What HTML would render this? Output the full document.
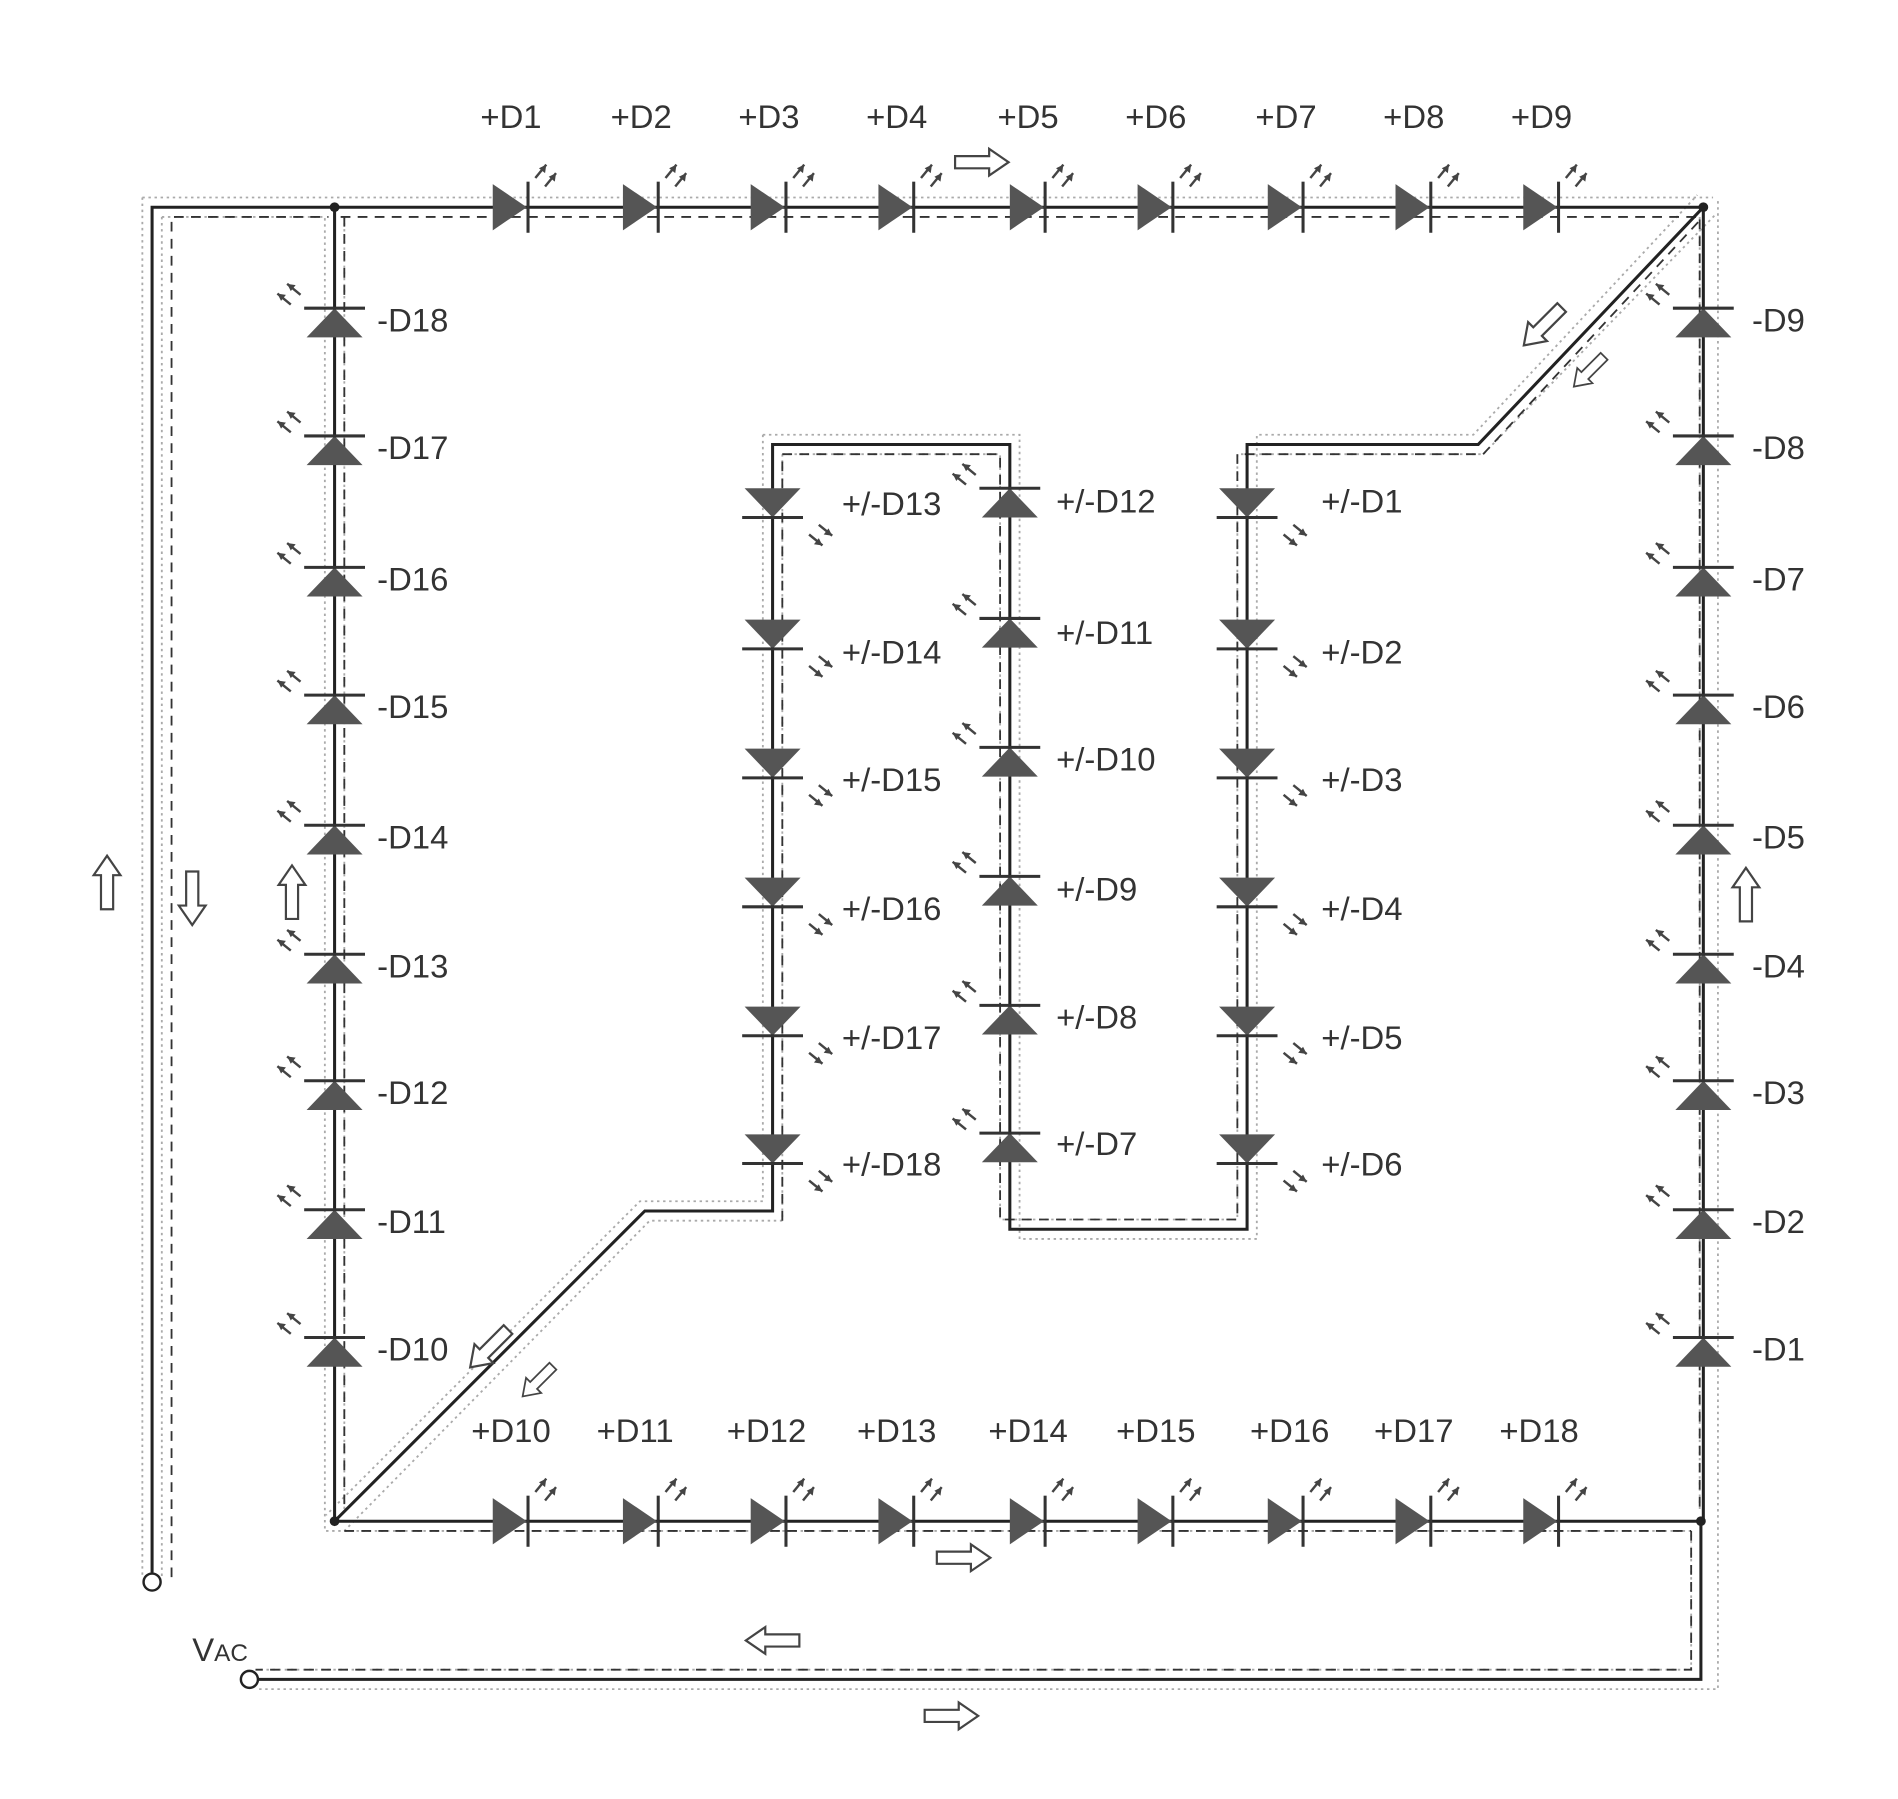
<!DOCTYPE html>
<html><head><meta charset="utf-8"><style>
html,body{margin:0;padding:0;background:#fff}
svg{display:block}
text{font-family:"Liberation Sans",sans-serif;font-size:27px;fill:#333}
</style></head><body>
<svg width="1898" height="1799" viewBox="0 0 1560 1478" xmlns="http://www.w3.org/2000/svg">
<defs>
<g id="la"><line x1="0" y1="0" x2="9" y2="-11" stroke="#444" stroke-width="2"/><polygon points="9,-11 3,-8 8,-4" fill="#444"/></g>
<g id="dR"><polygon points="-15,-19 13,0 -15,19" fill="#555"/><line x1="14" y1="-21" x2="14" y2="21" stroke="#333" stroke-width="2.5"/>
<use href="#la" x="20" y="-24"/><use href="#la" x="28" y="-17"/></g>
<g id="dU"><polygon points="-23,13 0,-11 23,13" fill="#555"/><line x1="-25" y1="-11" x2="25" y2="-11" stroke="#333" stroke-width="2.5"/>
<g transform="translate(-28,-14) rotate(-90)"><use href="#la" x="0" y="-8"/><use href="#la" x="8" y="0"/></g></g>
<g id="dD"><polygon points="-23,-12 0,12 23,-12" fill="#555"/><line x1="-25" y1="12" x2="25" y2="12" stroke="#333" stroke-width="2.5"/>
<g transform="translate(30,18) rotate(90)"><use href="#la" x="0" y="-8"/><use href="#la" x="8" y="0"/></g></g>
<path id="ar" d="M-22,-5 L6,-5 L6,-11 L22,0 L6,11 L6,5 L-22,5 Z" fill="#fff" stroke="#444" stroke-width="1.8"/>
</defs>
<g fill="none" stroke="#aaa" stroke-width="1.5" stroke-dasharray="2,3">
<path d="M117,162 H1408 M117,162 V1296 M133,178 V1296 M133,178 H267 V1258 H1390 V1372 H213 M213,1388 H1412 V162"/>
<path d="M627,357 H838 V1018 H1033 V357 H1211 L1395,160 M643,373 H822 V1002 H1017 V373 H1219 L1410,176"/>
<path d="M627,357 V987 H526 L268,1245 M643,373 V1003 H534 L283,1258"/>
<path d="M283,178 V1242 M1397,178 V1242"/>
</g>
<g fill="none" stroke="#333" stroke-width="1.5" stroke-dasharray="8,6">
<path d="M125,1296 V170 M141,1296 V178 H270 M280,178 H1395 M283,178 V1240 M1397,180 V1243"/>
<path d="M283,1258 H1390 M1390,1258 V1372 H210"/>
<path d="M643,1003 V373 H822 V1002 H1017 V373 H1219 L1396,182"/>
</g>
<g fill="none" stroke="#222" stroke-width="2.5">
<path d="M125,1292 V170 H1400 V1250 H275 V170"/>
<path d="M212,1380 H1398 V1250"/>
<path d="M275,1250 L530,995 H635 V365 H830 V1010 H1025 V365 H1215 L1400,170"/>
</g>
<circle cx="125" cy="1300" r="7" fill="#fff" stroke="#222" stroke-width="2"/>
<circle cx="205" cy="1380" r="7" fill="#fff" stroke="#222" stroke-width="2"/>
<circle cx="275" cy="170" r="4" fill="#222"/><circle cx="1400" cy="170" r="4" fill="#222"/>
<circle cx="275" cy="1250" r="4" fill="#222"/><circle cx="1398" cy="1250" r="4" fill="#222"/>
<text x="158" y="1365">V<tspan font-size="20">AC</tspan></text>
<!-- top diodes -->
<g>
<use href="#dR" x="420" y="170"/><use href="#dR" x="527" y="170"/><use href="#dR" x="632" y="170"/><use href="#dR" x="737" y="170"/><use href="#dR" x="845" y="170"/><use href="#dR" x="950" y="170"/><use href="#dR" x="1057" y="170"/><use href="#dR" x="1162" y="170"/><use href="#dR" x="1267" y="170"/>
<use href="#dR" x="420" y="1250"/><use href="#dR" x="527" y="1250"/><use href="#dR" x="632" y="1250"/><use href="#dR" x="737" y="1250"/><use href="#dR" x="845" y="1250"/><use href="#dR" x="950" y="1250"/><use href="#dR" x="1057" y="1250"/><use href="#dR" x="1162" y="1250"/><use href="#dR" x="1267" y="1250"/>
</g>
<g text-anchor="middle">
<text x="420" y="105">+D1</text><text x="527" y="105">+D2</text><text x="632" y="105">+D3</text><text x="737" y="105">+D4</text><text x="845" y="105">+D5</text><text x="950" y="105">+D6</text><text x="1057" y="105">+D7</text><text x="1162" y="105">+D8</text><text x="1267" y="105">+D9</text>
<text x="420" y="1185">+D10</text><text x="522" y="1185">+D11</text><text x="630" y="1185">+D12</text><text x="737" y="1185">+D13</text><text x="845" y="1185">+D14</text><text x="950" y="1185">+D15</text><text x="1060" y="1185">+D16</text><text x="1162" y="1185">+D17</text><text x="1265" y="1185">+D18</text>
</g>
<!-- left and right columns -->
<g>
<use href="#dU" x="275" y="264"/><use href="#dU" x="275" y="369"/><use href="#dU" x="275" y="477"/><use href="#dU" x="275" y="582"/><use href="#dU" x="275" y="689"/><use href="#dU" x="275" y="795"/><use href="#dU" x="275" y="899"/><use href="#dU" x="275" y="1005"/><use href="#dU" x="275" y="1110"/>
<use href="#dU" x="1400" y="264"/><use href="#dU" x="1400" y="369"/><use href="#dU" x="1400" y="477"/><use href="#dU" x="1400" y="582"/><use href="#dU" x="1400" y="689"/><use href="#dU" x="1400" y="795"/><use href="#dU" x="1400" y="899"/><use href="#dU" x="1400" y="1005"/><use href="#dU" x="1400" y="1110"/>
</g>
<g>
<text x="310" y="272">-D18</text><text x="310" y="377">-D17</text><text x="310" y="485">-D16</text><text x="310" y="590">-D15</text><text x="310" y="697">-D14</text><text x="310" y="803">-D13</text><text x="310" y="907">-D12</text><text x="310" y="1013">-D11</text><text x="310" y="1118">-D10</text>
<text x="1440" y="272">-D9</text><text x="1440" y="377">-D8</text><text x="1440" y="485">-D7</text><text x="1440" y="590">-D6</text><text x="1440" y="697">-D5</text><text x="1440" y="803">-D4</text><text x="1440" y="907">-D3</text><text x="1440" y="1013">-D2</text><text x="1440" y="1118">-D1</text>
</g>
<!-- middle columns -->
<g>
<use href="#dD" x="635" y="413"/><use href="#dD" x="635" y="521"/><use href="#dD" x="635" y="627"/><use href="#dD" x="635" y="733"/><use href="#dD" x="635" y="839"/><use href="#dD" x="635" y="944"/>
<use href="#dU" x="830" y="412"/><use href="#dU" x="830" y="519"/><use href="#dU" x="830" y="625"/><use href="#dU" x="830" y="731"/><use href="#dU" x="830" y="837"/><use href="#dU" x="830" y="942"/>
<use href="#dD" x="1025" y="413"/><use href="#dD" x="1025" y="521"/><use href="#dD" x="1025" y="627"/><use href="#dD" x="1025" y="733"/><use href="#dD" x="1025" y="839"/><use href="#dD" x="1025" y="944"/>
</g>
<g>
<text x="692" y="423">+/-D13</text><text x="692" y="545">+/-D14</text><text x="692" y="650">+/-D15</text><text x="692" y="756">+/-D16</text><text x="692" y="862">+/-D17</text><text x="692" y="966">+/-D18</text>
<text x="868" y="421">+/-D12</text><text x="868" y="529">+/-D11</text><text x="868" y="633">+/-D10</text><text x="868" y="740">+/-D9</text><text x="868" y="845">+/-D8</text><text x="868" y="949">+/-D7</text>
<text x="1086" y="421">+/-D1</text><text x="1086" y="545">+/-D2</text><text x="1086" y="650">+/-D3</text><text x="1086" y="756">+/-D4</text><text x="1086" y="862">+/-D5</text><text x="1086" y="966">+/-D6</text>
</g>
<!-- flow arrows -->
<use href="#ar" transform="translate(807,133)"/>
<use href="#ar" transform="translate(792,1280)"/>
<use href="#ar" transform="translate(782,1410)"/>
<use href="#ar" transform="translate(635,1348) rotate(180)"/>
<use href="#ar" transform="translate(88,725) rotate(-90)"/>
<use href="#ar" transform="translate(158,738) rotate(90)"/>
<use href="#ar" transform="translate(240,733) rotate(-90)"/>
<use href="#ar" transform="translate(1435,735) rotate(-90)"/>
<use href="#ar" transform="translate(1268,268) rotate(135)"/>
<use href="#ar" transform="translate(1306,305) rotate(135) scale(0.8)"/>
<use href="#ar" transform="translate(402,1108) rotate(135)"/>
<use href="#ar" transform="translate(442,1135) rotate(135) scale(0.8)"/>
</svg>
</body></html>
